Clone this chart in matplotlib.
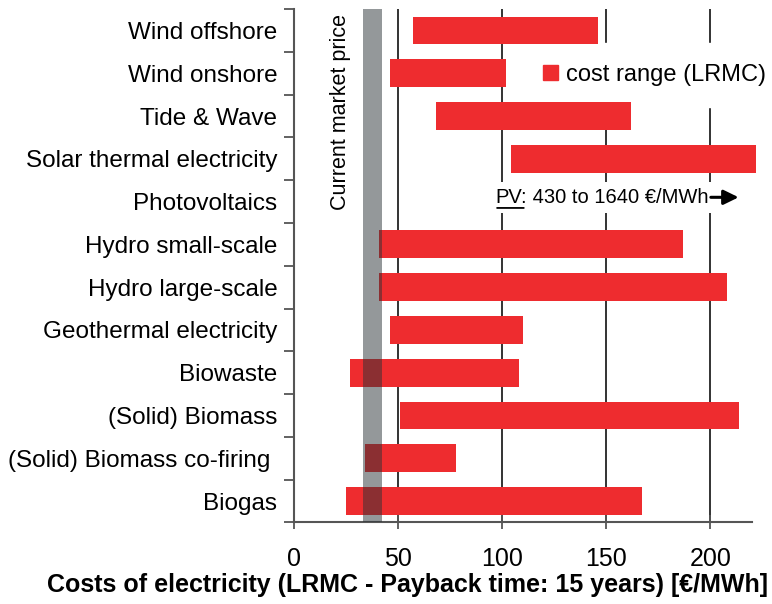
import matplotlib
matplotlib.use("Agg")
import numpy as np
import matplotlib.pyplot as plt
from matplotlib.patches import Patch
from matplotlib.text import OffsetFrom

plt.rcParams['font.family'] = ['Liberation Sans', 'DejaVu Sans']

# ======================
# data (EUR/MWh)
# ======================
techs = ["Wind offshore", "Wind onshore", "Tide & Wave", "Solar thermal electricity",
         "Photovoltaics", "Hydro small-scale", "Hydro large-scale",
         "Geothermal electricity", "Biowaste", "(Solid) Biomass",
         "(Solid) Biomass co-firing ", "Biogas"]
cost_low = [57, 46, 68, 104, np.nan, 41, 41, 46, 27, 51, 34, 25]
cost_high = [146, 102, 162, 222, np.nan, 187, 208, 110, 108, 214, 78, 167]
market_price = (33, 42)
grid_x = [50, 100, 150, 200]
x_ticks = [0, 50, 100, 150, 200]

RED = "#ee2c2f"
AXC = "#555555"

fig = plt.figure(figsize=(7.72, 6.04), dpi=100)
ax = fig.add_axes([0.381, 0.135, 0.593, 0.85])

y = np.arange(len(techs))
low = np.array(cost_low, dtype=float)
high = np.array(cost_high, dtype=float)
ok = ~np.isnan(low)

# grid lines behind bars
for g in grid_x:
    ax.axvline(g, color="#333333", lw=1.4, zorder=1)

ax.barh(y[ok], high[ok] - low[ok], left=low[ok], height=0.65,
        color=RED, zorder=2, clip_on=False)

# current market price band
ax.axvspan(*market_price, color="#2a3236", alpha=0.5, lw=0, zorder=3)
ax.text(22.5, 0.99, "Current market price", rotation=90, ha="center", va="top",
        fontsize=15.5, transform=ax.get_xaxis_transform(), zorder=4)

ax.set_xlim(0, 220)
ax.set_ylim(len(techs) - 0.5, -0.5)

# y axis: labels at rows, ticks between rows
ax.set_yticks(np.arange(-0.5, len(techs), 1))
ax.set_yticklabels([])
ax.set_yticks(y, minor=True)
ax.set_yticklabels(techs, minor=True, fontsize=17.5)
ax.tick_params(axis="y", which="major", direction="out", length=7, width=1.3, color=AXC)
ax.tick_params(axis="y", which="minor", length=0, pad=12)

ax.set_xticks(x_ticks)
ax.tick_params(axis="x", direction="inout", length=10, width=1.3, color=AXC,
               labelsize=18, pad=13)

for s in ["top", "right"]:
    ax.spines[s].set_visible(False)
for s in ["left", "bottom"]:
    ax.spines[s].set_color(AXC)
    ax.spines[s].set_linewidth(1.5)

ax.set_xlabel("Costs of electricity (LRMC - Payback time: 15 years) [\u20ac/MWh]",
              fontsize=18, fontweight="bold")
ax.xaxis.set_label_coords(0.248, -0.099)

# legend (white box hides the grid lines, but sits under the bars)
leg = ax.legend(handles=[Patch(color=RED, label="cost range (LRMC)")],
                loc="center left", bbox_to_anchor=(0.498, 0.872),
                fontsize=17, frameon=True, fancybox=False, handlelength=0.6,
                handleheight=0.6, handletextpad=0.35, borderpad=0.9, borderaxespad=0)
leg.get_frame().set_facecolor("white")
leg.get_frame().set_edgecolor("white")
leg.get_frame().set_alpha(1)
leg.set_zorder(1.5)

# PV note
pv_row = techs.index("Photovoltaics")
wb = dict(facecolor="white", edgecolor="none", pad=4.5)
t1 = ax.text(96.5, pv_row - 0.1, "PV:", fontsize=14.5, va="center", ha="left",
             bbox=wb, zorder=6)
t2 = ax.annotate(" 430 to 1640 \u20ac/MWh", xy=(1, 0), xycoords=t1, va="bottom",
                 fontsize=14.5, bbox=wb, zorder=5)
ax.annotate("", xy=(-0.02, -0.06), xycoords=t1, xytext=(1.0, -0.06), textcoords=t1,
            arrowprops=dict(arrowstyle="-", lw=1.3, color="black"), zorder=7)
anchor = OffsetFrom(t2, (1.0, 0.5))
ax.annotate("", xy=(22, 0), xycoords=anchor, xytext=(2, 0), textcoords=anchor,
            arrowprops=dict(arrowstyle="-|>,head_length=0.45,head_width=0.22",
                            mutation_scale=20, lw=2.2, color="black",
                            shrinkA=0, shrinkB=0), zorder=7)

plt.savefig("out.png", dpi=100)
